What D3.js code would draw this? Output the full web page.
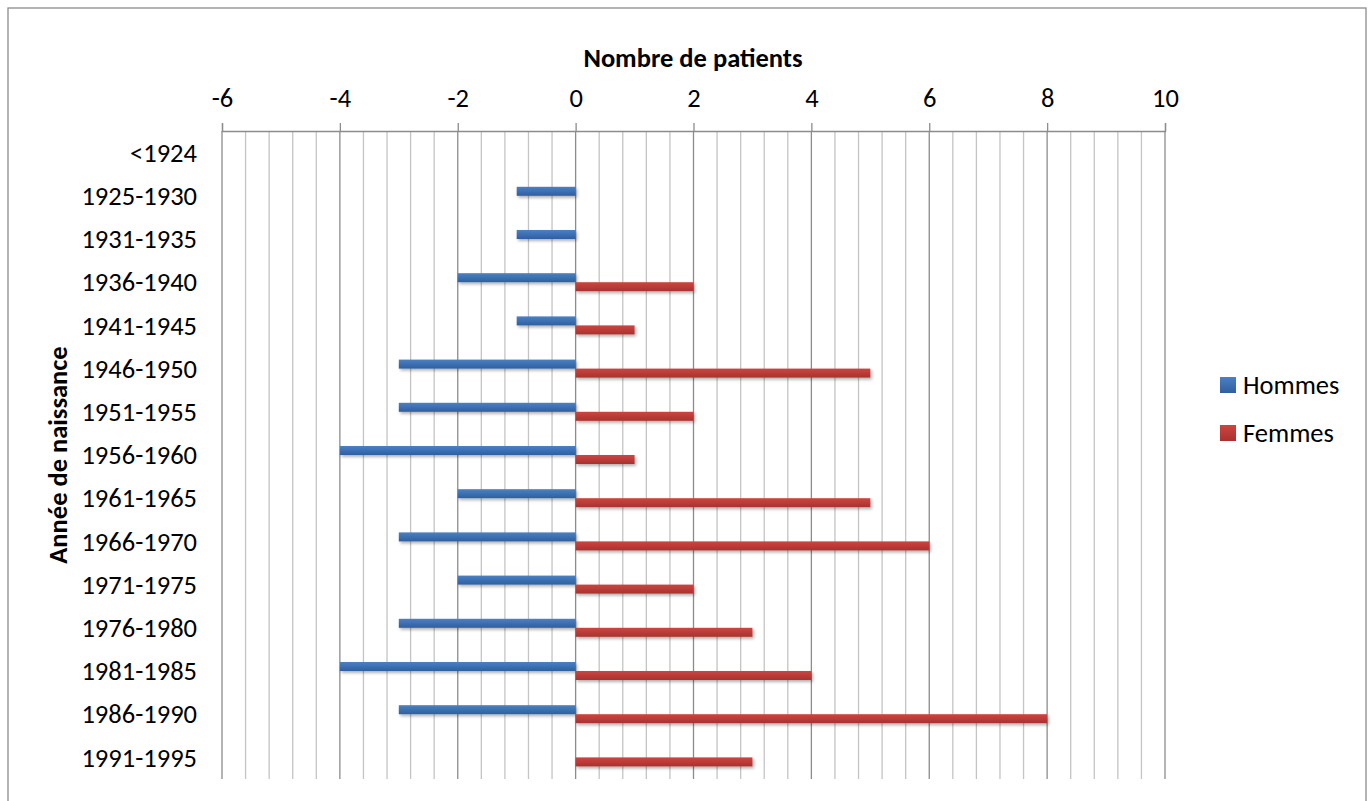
<!DOCTYPE html>
<html>
<head>
<meta charset="utf-8">
<script src="https://cdn.jsdelivr.net/npm/d3@7"></script>
<style>
  body { margin: 0; background: #fff; }
  text { font-family: Carlito, Calibri, Lato, sans-serif; fill: #000; }
</style>
</head>
<body>
<div id="chart"></div>
<script>
const categories = ["<1924", "1925-1930", "1931-1935", "1936-1940", "1941-1945", "1946-1950",
    "1951-1955", "1956-1960", "1961-1965", "1966-1970", "1971-1975", "1976-1980",
    "1981-1985", "1986-1990", "1991-1995"];
const hommes = [0, -1, -1, -2, -1, -3, -3, -4, -2, -3, -2, -3, -4, -3, 0];
const femmes = [0, 0, 0, 2, 1, 5, 2, 1, 5, 6, 2, 3, 4, 8, 3];
const seriesNames = ["Hommes", "Femmes"];
const majorTicks = [-6, -4, -2, 0, 2, 4, 6, 8, 10];

const W = 1368, H = 801;
const plot = { left: 222, right: 1165, top: 131, bottom: 779 };
const fontSize = "26.5px";

const svg = d3.select("#chart")
    .append("svg")
    .attr("width", W)
    .attr("height", H);

const defs = svg.append("defs");
const grads = [
    { id: "gBlue", top: "#4a80c4", bottom: "#2f5f9f" },
    { id: "gRed", top: "#cd4541", bottom: "#a83230" }
];
grads.forEach(g => {
    const lg = defs.append("linearGradient")
        .attr("id", g.id)
        .attr("x1", "0%").attr("x2", "0%")
        .attr("y1", "0%").attr("y2", "100%");
    lg.append("stop").attr("offset", "0%").attr("stop-color", g.top);
    lg.append("stop").attr("offset", "100%").attr("stop-color", g.bottom);
});
defs.append("filter")
    .attr("id", "shadow")
    .attr("x", "-10%").attr("y", "-50%")
    .attr("width", "130%").attr("height", "250%")
    .append("feDropShadow")
    .attr("dx", 1.5).attr("dy", 2)
    .attr("stdDeviation", 1.5)
    .attr("flood-color", "#000")
    .attr("flood-opacity", 0.3);

// chart border
svg.append("rect")
    .attr("x", 8).attr("y", 8)
    .attr("width", 1358).attr("height", 800)
    .attr("fill", "none")
    .attr("stroke", "#8c8c8c")
    .attr("stroke-width", 1.3);

const x = d3.scaleLinear()
    .domain([-6, 10])
    .range([plot.left, plot.right]);

const y = d3.scaleBand()
    .domain(categories)
    .range([plot.top, plot.bottom]);

const barH = 9;
const inner = d3.scaleBand()
    .domain(seriesNames)
    .range([0, barH * 2]);

// minor gridlines every 0.4
const minor = d3.range(0, 41).map(i => -6 + i * 0.4)
    .filter(v => Math.abs(v / 2 - Math.round(v / 2)) > 1e-6);
svg.append("g")
    .selectAll("line")
    .data(minor)
    .enter().append("line")
    .attr("x1", d => x(d)).attr("x2", d => x(d))
    .attr("y1", plot.top).attr("y2", plot.bottom)
    .attr("stroke", "#c4c4c4")
    .attr("stroke-width", 1.3);

// major gridlines
svg.append("g")
    .selectAll("line")
    .data(majorTicks)
    .enter().append("line")
    .attr("x1", d => x(d)).attr("x2", d => x(d))
    .attr("y1", plot.top).attr("y2", plot.bottom)
    .attr("stroke", "#8c8c8c")
    .attr("stroke-width", 1.3);

// top axis
const axis = svg.append("g")
    .attr("transform", `translate(0, ${plot.top})`)
    .call(d3.axisTop(x).tickValues(majorTicks).tickSize(8).tickPadding(16.5)
        .tickFormat(d => String(d)));
axis.select(".domain").attr("stroke", "#8c8c8c").attr("stroke-width", 1.3);
axis.selectAll(".tick line").attr("stroke", "#8c8c8c").attr("stroke-width", 1.3);
axis.selectAll(".tick text")
    .style("font-size", fontSize)
    .style("font-family", "Carlito, Calibri, Lato, sans-serif");

// category labels
svg.append("g")
    .selectAll("text")
    .data(categories)
    .enter().append("text")
    .attr("x", 197)
    .attr("y", d => y(d) + y.bandwidth() / 2)
    .attr("dy", "0.35em")
    .attr("text-anchor", "end")
    .style("font-size", fontSize)
    .text(d => d);

// bars
const rows = categories.map((c, i) => ({ cat: c, Hommes: hommes[i], Femmes: femmes[i] }));
const fills = { Hommes: "url(#gBlue)", Femmes: "url(#gRed)" };
seriesNames.forEach(s => {
    svg.append("g")
        .attr("filter", "url(#shadow)")
        .selectAll("rect")
        .data(rows.filter(r => r[s] !== 0))
        .enter().append("rect")
        .attr("x", d => x(Math.min(0, d[s])))
        .attr("y", d => y(d.cat) + (y.bandwidth() - barH * 2) / 2 + inner(s))
        .attr("width", d => Math.abs(x(d[s]) - x(0)))
        .attr("height", barH)
        .attr("fill", fills[s]);
});

// axis titles
svg.append("text")
    .attr("x", 693)
    .attr("y", 58)
    .attr("dy", "0.35em")
    .attr("text-anchor", "middle")
    .style("font-size", fontSize)
    .style("font-weight", "bold")
    .text("Nombre de patients");

svg.append("text")
    .attr("transform", "translate(58, 455) rotate(-90)")
    .attr("dy", "0.35em")
    .attr("text-anchor", "middle")
    .style("font-size", fontSize)
    .style("font-weight", "bold")
    .text("Année de naissance");

// legend
const legend = svg.append("g")
    .selectAll("g")
    .data(seriesNames)
    .enter().append("g")
    .attr("transform", (d, i) => `translate(1220, ${377 + i * 48})`);
legend.append("rect")
    .attr("width", 16).attr("height", 16)
    .attr("fill", d => fills[d]);
legend.append("text")
    .attr("x", 23)
    .attr("y", 8)
    .attr("dy", "0.35em")
    .style("font-size", fontSize)
    .text(d => d);
</script>
</body>
</html>
